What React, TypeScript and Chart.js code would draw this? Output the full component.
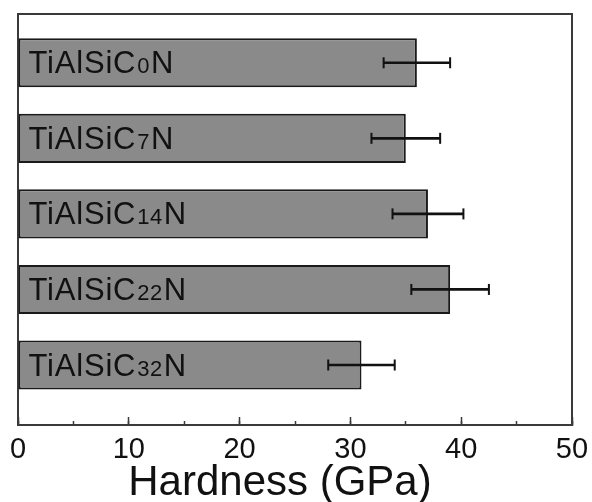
import { useEffect, useRef } from 'react';
import { Chart, registerables } from 'chart.js';

Chart.register(...registerables);

// ---- data ----
const labelPrefix = 'TiAlSiC';
const carbonContents = ['0', '7', '14', '22', '32'];
const labelSuffix = 'N';
const categories = carbonContents.map((c) => `${labelPrefix}${c}${labelSuffix}`);
const hardness = [36, 35, 37, 39, 31];
const hardnessErr = [3.0, 3.1, 3.2, 3.5, 3.0];
const xMin = 0;
const xMax = 50;
const xMajorStep = 10;
const xMinorStep = 5;
const axisTitle = 'Hardness (GPa)';

const FONT = '"Liberation Sans", Arial, Helvetica, sans-serif';
const INK = '#111111';
const FRAME = '#3a3a3a';

const barLabelPlugin = {
  id: 'barLabels',
  afterDatasetsDraw(chart: any) {
    const { ctx, chartArea, scales } = chart;
    const yScale = scales.y;
    ctx.save();
    ctx.fillStyle = INK;
    ctx.textAlign = 'left';
    ctx.textBaseline = 'alphabetic';
    categories.forEach((_cat, i) => {
      const py = yScale.getPixelForValue(i + 1) + 10.5;
      let px = chartArea.left + 10.5;
      const parts: [string, number][] = [
        [labelPrefix, 31],
        [carbonContents[i], 22],
        [labelSuffix, 31],
      ];
      parts.forEach(([txt, size]) => {
        ctx.font = `${size}px ${FONT}`;
        try { (ctx as any).letterSpacing = size > 25 ? '0.8px' : '0.5px'; } catch (e) {}
        ctx.fillText(txt, px, py);
        px += ctx.measureText(txt).width + 1;
      });
    });
    ctx.restore();
  },
};

const framePlugin = {
  id: 'frame',
  afterDraw(chart: any) {
    const { ctx, chartArea } = chart;
    ctx.save();
    ctx.strokeStyle = FRAME;
    ctx.lineWidth = 2;
    ctx.beginPath();
    ctx.moveTo(chartArea.left, chartArea.top);
    ctx.lineTo(chartArea.right, chartArea.top);
    ctx.lineTo(chartArea.right, chartArea.bottom);
    ctx.stroke();
    ctx.restore();
  },
};

const axisTitlePlugin = {
  id: 'axisTitleOffset',
  afterDraw(chart: any) {
    const { ctx, chartArea } = chart;
    ctx.save();
    ctx.font = `42px ${FONT}`;
    ctx.fillStyle = INK;
    ctx.textAlign = 'center';
    ctx.textBaseline = 'alphabetic';
    ctx.fillText(axisTitle, (chartArea.left + chartArea.right) / 2 - 15, chartArea.bottom + 70);
    ctx.restore();
  },
};

export default function App() {
  const canvasRef = useRef<HTMLCanvasElement | null>(null);

  useEffect(() => {
    const canvas = canvasRef.current;
    if (!canvas) return;
    const chart = new Chart(canvas, {
      type: 'bar',
      data: {
        datasets: [
          {
            type: 'bar',
            label: 'Hardness',
            data: hardness.map((v, i) => ({ x: v, y: i + 1 })),
            backgroundColor: '#8a8a8a',
            borderColor: '#1a1a1a',
            borderWidth: 2,
            borderSkipped: false,
            grouped: false,
            categoryPercentage: 1,
            barPercentage: 0.65,
            order: 2,
          } as any,
          {
            type: 'bar',
            label: 'Error',
            data: hardness.map((v, i) => ({ x: [v - hardnessErr[i], v + hardnessErr[i]], y: i + 1 })),
            backgroundColor: INK,
            borderWidth: 0,
            grouped: false,
            categoryPercentage: 1,
            barPercentage: 1,
            maxBarThickness: 2,
            order: 1,
          } as any,
          {
            type: 'scatter',
            label: 'Caps',
            data: hardness.flatMap((v, i) => [
              { x: v - hardnessErr[i], y: i + 1 },
              { x: v + hardnessErr[i], y: i + 1 },
            ]),
            showLine: false,
            pointStyle: 'line',
            pointRotation: 90,
            pointRadius: 5.5,
            pointHoverRadius: 5.5,
            pointBorderWidth: 2,
            pointBorderColor: INK,
            order: 0,
          } as any,
        ],
      },
      options: {
        indexAxis: 'y',
        animation: false,
        responsive: false,
        layout: { padding: { top: 14, right: 20, left: 0, bottom: 0 } },
        plugins: {
          legend: { display: false },
          tooltip: { enabled: false },
          title: { display: false },
        },
        scales: {
          x: {
            type: 'linear',
            position: 'bottom',
            min: xMin,
            max: xMax,
            weight: 1,
            offset: false,
            ticks: {
              stepSize: xMajorStep,
              color: INK,
              font: { family: FONT, size: 29, lineHeight: '65px' },
              padding: 0,
              maxRotation: 0,
              autoSkip: false,
            },
            grid: { drawOnChartArea: false, tickLength: -8, tickColor: FRAME, tickWidth: 1.5 },
            border: { color: FRAME, width: 2 },
            afterFit: (s: any) => { s.height = 77; },
          },
          x2: {
            type: 'linear',
            axis: 'x',
            position: 'bottom',
            min: xMin,
            max: xMax,
            weight: 0,
            offset: false,
            ticks: { stepSize: xMinorStep, display: false, padding: 0 },
            grid: { drawOnChartArea: false, tickLength: -4, tickColor: FRAME, tickWidth: 1.5 },
            border: { display: false },
            afterFit: (s: any) => { s.height = 0; },
          },
          y: {
            type: 'linear',
            position: 'left',
            reverse: true,
            offset: false,
            min: 0.3545,
            max: 5.794,
            ticks: { display: false, stepSize: 1, includeBounds: false, padding: 0 },
            grid: { drawOnChartArea: false, drawTicks: false },
            border: { color: FRAME, width: 2 },
            afterFit: (s: any) => { s.width = 18; },
          },
        } as any,
      },
      plugins: [barLabelPlugin, framePlugin, axisTitlePlugin],
    } as any);
    return () => chart.destroy();
  }, []);

  return (
    <div style={{ position: 'fixed', left: 0, top: 0, width: 592, height: 502, background: '#ffffff' }}>
      <canvas ref={canvasRef} width={592} height={502} style={{ display: 'block' }} />
    </div>
  );
}
